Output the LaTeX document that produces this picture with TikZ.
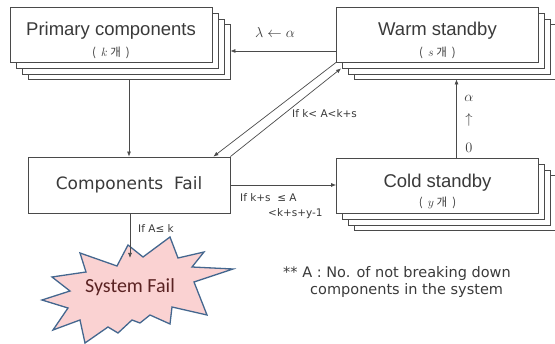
\documentclass[tikz,border=0pt]{standalone}
\usepackage{fontspec}
\newfontfamily\boxfont{Liberation Sans}
\newfontfamily\notefont{DejaVu Sans}
\newfontfamily\burstfont{Carlito}
\newfontfamily\krfont{Noto Sans CJK KR}
\usetikzlibrary{positioning,shadows,arrows.meta}

\definecolor{linegray}{HTML}{4A4A4A}
\definecolor{textgray}{HTML}{3A3A3A}
\definecolor{burstfill}{HTML}{FAD2D2}
\definecolor{burstline}{HTML}{44678F}
\definecolor{bursttext}{HTML}{5A2222}

\tikzset{
  stack/.style={draw=linegray, fill=white, line width=0.8pt, minimum width=202pt, minimum height=55pt, inner sep=0pt,
    copy shadow={shadow xshift=18pt, shadow yshift=-17pt},
    copy shadow={shadow xshift=12pt, shadow yshift=-12pt},
    copy shadow={shadow xshift=6pt, shadow yshift=-6pt}},
  plain/.style={draw=linegray, fill=white, line width=0.8pt, minimum width=202pt, minimum height=56pt, inner sep=0pt,
    font=\notefont\fontsize{17}{20}\selectfont, text=textgray},
  title/.style={font=\boxfont\fontsize{18.5}{20}\selectfont, text=textgray, inner sep=0pt, anchor=base},
  count/.style={font=\krfont\fontsize{11.5}{13}\selectfont, text=textgray, inner sep=0pt},
  cond/.style={font=\notefont\fontsize{10.5}{12}\selectfont, text=textgray, inner sep=0pt, anchor=base west},
  rate/.style={font=\fontsize{14.5}{16}\selectfont, text=textgray, inner sep=0pt},
  arr/.style={draw=linegray, line width=0.7pt, -{Latex[length=5pt,width=4pt]}}
}

\begin{document}
\begin{tikzpicture}[x=1pt, y=-1pt]
\useasboundingbox (0,0) rectangle (555,344);

% stacked boxes
\node[stack] (primary) at (111,34.5) {};
\node[title] (primary-name) at ([yshift=-1pt]primary.center) {Primary components};
\node[count] (primary-count) at ([yshift=-18pt]primary.center) {(\ \ $k$ 개\ \ )};

\node[stack] (warm) at (437.5,34.5) {};
\node[title] (warm-name) at ([yshift=-1pt]warm.center) {Warm standby};
\node[count] (warm-count) at ([yshift=-18pt]warm.center) {(\ \ $s$ 개\ \ )};

\node[stack] (cold) at (437.5,185.5) {};
\node[title] (cold-name) at ([yshift=-2.5pt]cold.center) {Cold standby};
\node[count] (cold-count) at ([yshift=-17.5pt]cold.center) {(\ \ $y$ 개\ \ )};

\node[plain] (cf) at (129,185) {Components\ \ Fail};

\coordinate (pback) at ([xshift=18pt,yshift=-17pt]primary.south east);
\coordinate (wback) at ([xshift=18pt,yshift=-17pt]warm.south east);
\coordinate (warm-in) at ([yshift=-16.5pt]warm.west);
\coordinate (cold-out) at ([xshift=19pt]cold.north);

% explosion
\draw[fill=burstfill, draw=burstline, line width=1.3pt, line join=miter]
  (128,245) -- (143,257) -- (170,237) -- (178,258) -- (204,252) -- (192,267)
  -- (233,269) -- (194,282) -- (207,315) -- (172,307) -- (170,324) -- (150,315)
  -- (140,323) -- (132,320) -- (118,333) -- (108,327) -- (85,343) -- (80,320)
  -- (53,330) -- (68,308) -- (42,300) -- (70,291) -- (52,277) -- (86,272)
  -- (80,253) -- (117,266) -- cycle;
\coordinate (burst-tip) at (130,258);
\node[font=\burstfont\fontsize{20}{22}\selectfont, text=bursttext, inner sep=0pt] (sysfail) at (130,287) {System Fail};

% connectors
\draw[arr] ([xshift=18pt,yshift=-17pt]primary.south) -- (cf.north);
\draw[arr] (warm-in) -- (warm-in -| pback);
\draw[arr] (warm.south west) -- ([xshift=-17pt]cf.north east);
\draw[arr] (cf.north east) -- ([xshift=5pt,yshift=-6pt]warm.south west);
\draw[arr] (cf.east) -- (cf.east -| cold.west);
\draw[arr] (cold-out) -- (cold-out |- wback);
\draw[arr] ([xshift=1pt]cf.south) -- ([xshift=1pt]cf.south |- burst-tip);

% labels
\node[rate] (lambda-alpha) at (275,33) {$\lambda\leftarrow\alpha$};
\node[rate] (up-alpha) at (469,98) {$\alpha$};
\node[rate] (up-arrow) at (469,120) {$\uparrow$};
\node[rate] (up-zero) at (469,148) {$0$};
\node[cond] (cond-warm) at (292,118) {If k< A<k+s};
\node[cond] (cond-cold) at (240,202) {If k+s \ ≤ A};
\node[cond] (cond-cold2) at (268,217) {<k+s+y-1};
\node[cond] (cond-fail) at (138,233) {If A≤ k};

\node[font=\notefont\fontsize{14.5}{16}\selectfont, text=textgray, inner sep=0pt, anchor=base west] (note1) at (283,278) {** A : No. of not breaking down};
\node[font=\notefont\fontsize{14.5}{16}\selectfont, text=textgray, inner sep=0pt, anchor=base west] (note2) at (310,295) {components in the system};

\end{tikzpicture}
\end{document}
